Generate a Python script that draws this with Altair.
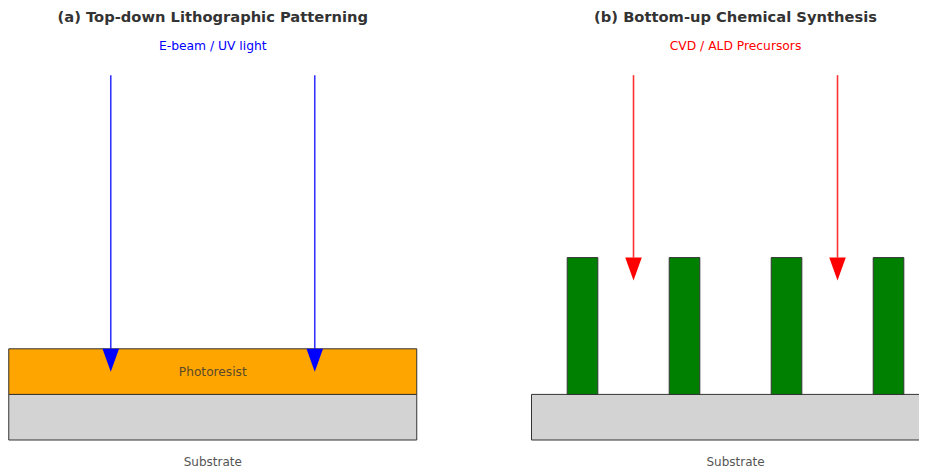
import altair as alt
import pandas as pd

# ---- data (diagram units) ----
panel_names = ["(a) Top-down Lithographic Patterning", "(b) Bottom-up Chemical Synthesis"]
panel_offsets = [0.0, 10.25]
panel_width = 8.0
source_labels = ["E-beam / UV light", "CVD / ALD Precursors"]
source_colors = ["#0000ff", "#ff0000"]

substrate_y = [0.0, 1.0]
photoresist_y = [1.0, 2.0]
pillar_centers = [1.0, 3.0, 5.0, 7.0]
pillar_width = 0.6
pillar_y = [1.0, 4.0]

arrow_x = [2.0, 6.0]
arrow_start = 8.0
arrow_tip = [1.5, 3.5]   # per panel
head_len = 0.5

# ---- build tables ----
rects = []
for off in panel_offsets:
    rects.append(dict(x=off, x2=off + panel_width, y=substrate_y[0], y2=substrate_y[1], fill="#d3d3d3"))
rects.append(dict(x=panel_offsets[0], x2=panel_offsets[0] + panel_width,
                  y=photoresist_y[0], y2=photoresist_y[1], fill="#ffa500"))
for c in pillar_centers:
    o = panel_offsets[1]
    rects.append(dict(x=o + c - pillar_width / 2, x2=o + c + pillar_width / 2,
                      y=pillar_y[0], y2=pillar_y[1], fill="#008000"))
rects_df = pd.DataFrame(rects)

arrows = []
for i, off in enumerate(panel_offsets):
    for ax in arrow_x:
        arrows.append(dict(x=off + ax, y=arrow_start, y2=arrow_tip[i] + head_len,
                           yh=arrow_tip[i] + head_len / 2, color=source_colors[i]))
arrows_df = pd.DataFrame(arrows)

centers = [o + panel_width / 2 for o in panel_offsets]
titles_df = pd.DataFrame(dict(x=centers, y=[9.25, 9.25], text=panel_names))
src_df = pd.DataFrame(dict(x=centers, y=[8.64, 8.64], text=source_labels, color=source_colors))
sub_df = pd.DataFrame(dict(x=centers, y=[-0.48, -0.48], text=["Substrate", "Substrate"]))
pr_df = pd.DataFrame(dict(x=[centers[0]], y=[1.5], text=["Photoresist"]))

W, H = 911, 463
PX, PY = 51.0, 45.6
xs = alt.Scale(domain=[-0.015, -0.015 + W / PX], nice=False, zero=False)
ys = alt.Scale(domain=[(440 - 8 - H) / PY, (440 - 8) / PY], nice=False, zero=False)
X = lambda f: alt.X(f, type="quantitative", scale=xs, axis=None)
Y = lambda f: alt.Y(f, type="quantitative", scale=ys, axis=None)

rect_layer = alt.Chart(rects_df).mark_rect(stroke="#333333", strokeWidth=1).encode(
    x=X("x"), x2="x2", y=Y("y"), y2="y2", fill=alt.Fill("fill:N", scale=None))

rule_layer = alt.Chart(arrows_df).mark_rule(strokeWidth=1.6, opacity=0.8).encode(
    x=X("x"), y=Y("y"), y2="y2", color=alt.Color("color:N", scale=None))

head_layer = alt.Chart(arrows_df).mark_point(
    shape="M-0.72,-1 L0.72,-1 L0,1 Z", size=23 * 23, filled=True, opacity=1, strokeWidth=0).encode(
    x=X("x"), y=Y("yh"), color=alt.Color("color:N", scale=None))

title_layer = alt.Chart(titles_df).mark_text(
    font="DejaVu Sans", fontSize=14.7, fontWeight="bold", color="#333333").encode(
    x=X("x"), y=Y("y"), text="text:N")

src_layer = alt.Chart(src_df).mark_text(font="DejaVu Sans", fontSize=12.3).encode(
    x=X("x"), y=Y("y"), text="text:N", color=alt.Color("color:N", scale=None))

sub_layer = alt.Chart(sub_df).mark_text(font="DejaVu Sans", fontSize=12, color="#555555").encode(
    x=X("x"), y=Y("y"), text="text:N")

pr_layer = alt.Chart(pr_df).mark_text(font="DejaVu Sans", fontSize=12.2, color="#5a4a2a").encode(
    x=X("x"), y=Y("y"), text="text:N")

chart = alt.layer(rect_layer, rule_layer, head_layer, title_layer, src_layer, sub_layer, pr_layer).properties(
    width=W, height=H, autosize=alt.AutoSizeParams(type="none"), padding=0
).configure_view(stroke=None)

chart.save("out.html", embed_options={"renderer": "svg", "actions": False})
